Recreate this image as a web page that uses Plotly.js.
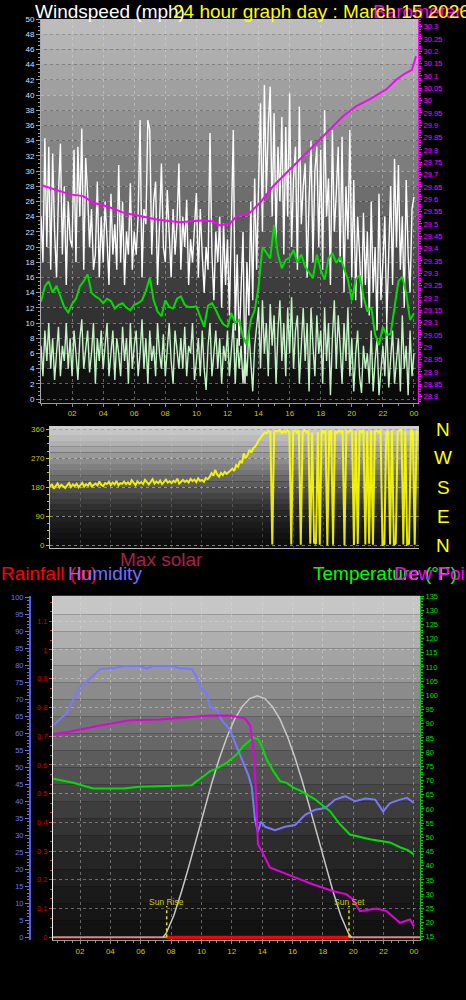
<!DOCTYPE html>
<html><head><meta charset="utf-8">
<script src="https://cdn.plot.ly/plotly-3.0.1.min.js"></script>
<style>html,body{margin:0;padding:0;background:#000;overflow:hidden}#chart{width:466px;height:1000px}</style>
</head><body><div id="chart"></div>
<script>
// ---------- DATA ----------
const HOUR_TICKS = [2,4,6,8,10,12,14,16,18,20,22,24];
const HOUR_LABELS = ['02','04','06','08','10','12','14','16','18','20','22','00'];
const SAMPLE_STEP = 0.125;   // hours between wind samples
const AVG_STEP = 0.25;       // hours between average-wind samples

// Wind gust (mph), white
const gust = [
 24,18,34.3,20,33.2,17,32.3,22,
 16,27,33.6,19,28,15,26,21,
 20,32.8,18,33.2,24,35.6,17,31.7,
 27,20,25,17,19,28.6,16,24,
 18,26,21,15,27,19,23,17,
 30.8,18,26,15,22,19,28.4,17,
 22,19,24,36.7,16,25,23,36.7,
 35.4,19,26,28.6,15,24,31,20,
 18,27.5,22,16,25,19,23,31,
 17,24,20,26.2,15,21,18,23,
 27.1,16,25,19,14,20,17,35,
 19,13,22,18,24,12,23.1,15,
 21,11,25,35.4,9,19,7,16,
 22,2,18,11,26,13,29,17,
 28,38.9,22,41.3,27,36,41.1,24,
 37.6,21,33.2,26,37.1,19,35.8,24,
 40.2,20,29,33.2,17,38.5,23,28,
 31,16,26,34,18,30,33.2,20,
 32.8,17,38,24,29,15,35.4,22,
 27,33.2,18,34.5,14,28,21,35.4,
 16,28.8,13,24,19,12,24.5,15,
 22,11,26,14,20,9,27,13,
 18,24,10,21,28,15,31.6,20,
 30.8,17,24,12,28.8,19,14,25,
 26.6];

// Wind speed (mph), light green
const windSpeed = [
 7,3,9,5,10,4,8,2.5,
 6,9.5,3,7,5,10,4,8,
 3,9,6,2.5,8,10.5,4,7,
 9,3.5,6,10,2,8,5,9,
 4,7,10,3,6,9,2.5,8,
 6,3,9.5,5,8,2,10,4,
 7,9,3,6,10.5,4,8,2,
 9,5,7,3,10,6,4,8.5,
 3,7,10,5,2,9,6,4,
 8,4,9.5,3,7,6,10,2.5,
 5,8,3,9,4,1.2,7,10,
 3,6,9,4,8,2,7,5,
 9,3,6,10,2,8,4,7,
 2,6,3,9,5,1,7,10,
 12,4,13,6,10,3,12.5,7,
 11,2,9,13,5,10,3,12,
 6,13.4,4,9,11,2,8,12,
 5,10,1,12,7,3,11,6,
 9,2,12,5,10,0.5,8,13,
 4,11,7,2,10,5,12,3,
 8,1,6,9,3,0.8,7,4,
 6,2,9,1,5,8,0.5,4,
 7,3,10,1.5,6,9,2,5,
 8,1,11,4,7,0.5,9,3,
 6];

// Average wind speed (mph), green
const windAvg = [
 12.8,14.8,15.5,14.0, 14.9,13.5,12.1,11.4, 12.5,13.2,14.8,15.5, 16.4,14.0,13.5,13.2,
 12.6,13.2,12.9,11.9, 12.4,12.6,12.0,11.7, 12.4,12.6,13.0,14.2, 16.0,13.0,11.5,10.9,
 13.0,12.1,11.9,13.2, 13.5,12.4,12.1,12.1, 12.2,10.8,9.5,12.3, 12.6,11.7,10.6,9.8,
 9.5,11.3,10.0,10.4, 8.2,7.1,10.4,11.7, 14.8,20.0,19.2,18.5, 22.9,19.0,17.2,18.3,
 18.6,19.6,18.0,19.0, 17.4,16.6,15.9,19.0, 17.0,15.7,18.5,19.2, 17.9,18.7,17.3,15.7,
 13.0,15.7,16.3,13.5, 11.5,12.1,8.5,7.1, 9.5,8.4,8.6,11.8, 15.5,16.1,13.9,10.4,
 11.3];

// Barometer (inHg), magenta
const baroHours = [0.05,0.9,1.87,2.72,3.37,4.23,5.3,6.37,7.45,8.94,10.44,11.07,11.52,12.16,12.59,13.45,14.09,14.95,15.81,16.88,17.74,18.6,19.45,20.32,21.17,22.25,22.89,23.42,23.87,24.13];
const baro = [29.657,29.64,29.62,29.613,29.586,29.572,29.546,29.532,29.518,29.507,29.515,29.51,29.494,29.502,29.532,29.546,29.586,29.654,29.708,29.776,29.83,29.884,29.938,29.979,30.006,30.047,30.087,30.11,30.125,30.18];

// Wind direction (degrees), yellow
const windDir = [
 182,190,176,185,192,180,188,183,
 178,186,193,181,189,184,191,180,
 187,194,182,190,185,196,183,189,
 192,186,198,188,184,193,190,197,
 187,195,189,200,186,193,191,198,
 190,196,188,202,193,187,199,192,
 196,190,203,194,189,197,205,192,
 198,193,201,190,196,204,195,199,
 193,200,196,207,192,198,203,197,
 201,195,206,199,204,196,208,200,
 203,197,209,205,212,224,216,234,
 220,213,225,218,228,222,226,232,
 238,231,249,244,262,255,285,270,
 280,296,288,302,306,318,327,335,
 342,350,348,355,352,3,351,356,
 353,358,349,355,351,357,352,3,
 354,357,350,356,2,352,358,351,
 355,5,350,8,4,352,2,356,
 351,357,0,353,358,2,355,349,
 356,352,358,0,354,351,357,353,
 1,355,4,358,352,356,3,354,
 5,357,2,353,356,351,358,0,
 4,350,355,3,357,1,6,352,
 356,359,3,354,2,5,357,352,
 2,354,350];

// Humidity (%)
const humHours = [0.24,1.12,2.0,2.44,3.32,4.19,4.85,5.95,6.39,6.83,8.15,8.59,9.36,9.69,9.9,10.35,10.56,11.0,11.33,11.88,12.32,12.76,13.09,13.31,13.53,13.72,13.92,14.2,14.85,15.51,16.17,16.83,17.49,18.15,18.81,19.47,20.13,20.79,21.45,21.97,22.43,23.09,23.55,24.0];
const humidity = [62.4,65.9,73.7,75.2,78.9,79.1,79.8,79.8,79.1,79.8,79.8,79.1,78.9,76.6,73.7,71.8,67.8,66.9,63.9,61,56.1,51.2,47.7,44.3,34.5,31,34,32.5,31.5,32.5,33,36,37.5,38,40.5,41.5,40,40.8,40.5,37,39.5,40.5,41,39.5];

// Temperature (°F)
const tempHours = [0.24,1.56,2.87,4.85,5.95,8.15,9.36,9.69,10.13,10.56,11.0,11.67,12.32,12.76,13.09,13.42,13.75,13.98,14.3,14.74,15.18,15.62,16.06,16.49,17.48,18.47,19.13,19.78,21.1,22.42,23.08,23.6,24.0];
const temperature = [70.6,69.2,67.2,67.2,67.8,68.0,68.3,69.8,71.4,73.3,74.2,76.3,79.2,82.1,83.5,85.1,84.5,82.1,77.4,73.3,69.8,69.2,67.5,66.5,63.4,59.2,54.6,51.0,49.3,48.2,46.5,45.5,44.0];

// Dew point (as drawn on the right scale)
const dewHours = [0.22,1.34,3.32,5.29,7.27,9.25,10.56,11.88,12.87,13.2,13.4,13.59,13.72,13.98,14.51,15.5,16.49,17.37,18.66,19.57,19.98,20.44,21.54,22.2,23.08,23.74,24.0];
const dewPoint = [86.3,87.3,89.4,91.2,91.5,92.2,92.9,92.9,91.9,89.4,82.7,66.9,47.6,45.1,39.4,37.3,35.2,33.4,31.1,29.9,28.1,24.0,24.9,24.0,19.9,21.1,18.7];

// Max solar curve (drawn on humidity scale)
const solarHours = [7.47,7.68,8.18,8.68,9.18,9.68,10.18,10.68,11.18,11.68,12.18,12.68,13.18,13.68,14.18,14.68,15.18,15.68,16.18,16.68,17.18,17.68,18.18,18.68,19.18,19.68,19.89];
const maxSolar = [0,1.2,6.4,13.3,21.0,29.2,37.4,45.4,52.6,58.9,64.1,67.8,70.2,71,70.2,67.8,64.1,58.9,52.6,45.4,37.4,29.2,21.0,13.3,6.4,1.2,0];

// Rainfall (in)
const rainHours = [0, 24.4];
const rainfall = [0, 0];

const SUNRISE = 7.71, SUNSET = 19.72;
const TITLE_DATE = '24 hour graph day : March 15 2026';

// ---------- HELPERS ----------
const W = 466, H = 1000;
const px = v => v / W;
const py = v => 1 - v / H;
const FONT = 'Liberation Sans, Arial, sans-serif';
const hoursFor = (arr, step) => arr.map((_, i) => i * step);
const OLIVE = '#c8c800';

// Background band colours (style only)
const topBands = ['#0a0a0a','#111111','#222222','#282828','#2d2d2d','#323232','#373737','#3d3d3d','#444444','#4b4b4b','#545454','#5d5d5d','#666666','#6e6e6e','#767676','#7d7d7d','#848484','#8b8b8b','#929292','#999999','#a0a0a0','#a7a7a7','#aeaeae','#b5b5b5','#bcbcbc'];
const dirBands = ['#0e0e0e','#121212','#161616','#1b1b1b','#212121','#282828','#303030','#3a3a3a','#444444','#505050','#5c5c5c','#686868','#747474','#808080','#8c8c8c','#989898','#a4a4a4','#b0b0b0','#bbbbbb','#c6c6c6','#cfcfcf'];
const botBands = ['#121212','#161616','#1a1a1a','#1f1f1f','#252525','#2c2c2c','#343434','#3d3d3d','#474747','#515151','#5c5c5c','#676767','#737373','#7f7f7f','#8b8b8b','#979797','#a3a3a3','#afafaf','#bbbbbb','#c6c6c6'];

const shapes = [];
topBands.forEach((c, i) => shapes.push({type:'rect', layer:'below', xref:'x domain', yref:'y', x0:0, x1:1, y0: i===0 ? -0.5 : i*2, y1: i*2+2, fillcolor:c, line:{width:0}}));
dirBands.forEach((c, i) => shapes.push({type:'rect', layer:'below', xref:'x2 domain', yref:'y3', x0:0, x1:1, y0: i===0 ? -8 : i*18, y1: Math.min(370, i*18+18), fillcolor:c, line:{width:0}}));
botBands.forEach((c, i) => shapes.push({type:'rect', layer:'below', xref:'x3 domain', yref:'y5', x0:0, x1:1, y0: i===0 ? -0.8 : i*5, y1: i===19 ? 100.5 : i*5+5, fillcolor:c, line:{width:0}}));

// ---------- TRACES ----------
const traces = [
  {x: hoursFor(gust, SAMPLE_STEP), y: gust, xaxis:'x', yaxis:'y', mode:'lines', line:{color:'#ffffff', width:1.4}},
  {x: hoursFor(windSpeed, SAMPLE_STEP), y: windSpeed, xaxis:'x', yaxis:'y', mode:'lines', line:{color:'#c4f5c4', width:1.4}},
  {x: hoursFor(windAvg, AVG_STEP), y: windAvg, xaxis:'x', yaxis:'y', mode:'lines', line:{color:'#00dd00', width:2}},
  {x: baroHours, y: baro, xaxis:'x', yaxis:'y2', mode:'lines', line:{color:'#ff00ff', width:2}},
  {x: hoursFor(windDir, SAMPLE_STEP), y: windDir, xaxis:'x2', yaxis:'y3', mode:'lines', line:{color:'rgba(255,255,0,0.9)', width:2}},
  {x: rainHours, y: rainfall, xaxis:'x3', yaxis:'y4', mode:'lines', line:{color:'#f08080', width:2}},
  {x: [SUNRISE, SUNSET], y: [0, 0], xaxis:'x3', yaxis:'y4', mode:'lines', line:{color:'#ff0000', width:3}},
  {x: solarHours, y: maxSolar, xaxis:'x3', yaxis:'y5', mode:'lines', line:{color:'#c8c8c8', width:1.5}},
  {x: humHours, y: humidity, xaxis:'x3', yaxis:'y5', mode:'lines', line:{color:'#7878ff', width:2}},
  {x: [SUNRISE, SUNRISE], y: [0, 9.2], xaxis:'x3', yaxis:'y5', mode:'lines', line:{color:'#e0e000', width:1.5, dash:'dot'}},
  {x: [SUNSET, SUNSET], y: [0, 9.2], xaxis:'x3', yaxis:'y5', mode:'lines', line:{color:'#e0e000', width:1.5, dash:'dot'}},
  {x: tempHours, y: temperature, xaxis:'x3', yaxis:'y6', mode:'lines', line:{color:'#00e000', width:2}},
  {x: dewHours, y: dewPoint, xaxis:'x3', yaxis:'y6', mode:'lines', line:{color:'#e000e0', width:2}}
];

// ---------- LAYOUT ----------
const grid = {showgrid:true, gridcolor:'rgba(225,225,225,0.4)', griddash:'dot', gridwidth:1};
const ann = (text, x, y, color, size, xanchor) => ({text, x: px(x), y: py(y), xref:'paper', yref:'paper', xanchor: xanchor || 'left', yanchor:'middle', showarrow:false, font:{family:FONT, size, color}});

const annotations = [
  ann('Windspeed (mph)', 33, 11, '#ffffff', 19),
  ann('Barometer (in)', 371, 11, '#ff00ff', 19),
  ann(TITLE_DATE, 171, 11, '#ffff00', 19),
  ann('N', 443, 429, '#ffff00', 19, 'center'),
  ann('W', 443, 458, '#ffff00', 19, 'center'),
  ann('S', 443, 487, '#ffff00', 19, 'center'),
  ann('E', 443, 516, '#ffff00', 19, 'center'),
  ann('N', 443, 545, '#ffff00', 19, 'center'),
  ann('Max solar', 118, 559, '#a8204a', 19),
  ann('Rainfall (in)', -1, 573, '#ff0000', 19),
  ann('Humidity', 66, 573, '#7070ff', 19),
  ann('Temperature (°F)', 311, 573, '#00ff00', 19),
  ann('Dew Point (°F)', 392, 573, '#ff00ff', 19),
  ann('Sun Rise', 166, 902, OLIVE, 8.5, 'center'),
  ann('Sun Set', 349, 902, OLIVE, 8.5, 'center')
];

const layout = {
  width: W, height: H, autosize:false,
  margin:{l:0, r:0, t:0, b:0},
  paper_bgcolor:'#000', plot_bgcolor:'rgba(0,0,0,0)',
  showlegend:false, hovermode:false,
  font:{family:FONT},
  shapes, annotations,
  xaxis: Object.assign({domain:[px(41), px(418)], range:[0, 24.26], anchor:'y',
    tickmode:'array', tickvals:HOUR_TICKS, ticktext:HOUR_LABELS,
    tickfont:{color:OLIVE, size:8}, ticks:'outside', ticklen:3, tickcolor:'#888',
    showline:true, linecolor:'#9a9a9a', zeroline:false,
    minor:{tickmode:'linear', tick0:0, dtick:1, ticklen:2, tickcolor:'#888', showgrid:false}}, grid),
  yaxis: Object.assign({domain:[py(402.8), py(19)], range:[-0.5, 50], anchor:'x',
    tickmode:'linear', tick0:0, dtick:2,
    tickfont:{color:'#cfe2ff', size:8}, ticks:'outside', ticklen:4, tickcolor:'#999',
    showline:true, linecolor:'#aaa', zeroline:false,
    minor:{tickmode:'linear', tick0:0, dtick:0.5, ticklen:2, tickcolor:'#999', showgrid:false}}, grid),
  yaxis2: {overlaying:'y', side:'right', anchor:'x', range:[28.775, 30.331],
    tickmode:'linear', tick0:28.8, dtick:0.05, tickformat:'.2~f',
    tickfont:{color:'#ff00ff', size:7.5}, ticks:'outside', ticklen:3, tickcolor:'#ff00ff',
    showline:true, linecolor:'#ff00ff', showgrid:false, zeroline:false,
    minor:{tickmode:'linear', tick0:28.8, dtick:0.01, ticklen:2, tickcolor:'#ff00ff', showgrid:false}},
  xaxis2: Object.assign({domain:[px(50), px(419)], range:[0, 24.28], anchor:'y3',
    tickmode:'array', tickvals:HOUR_TICKS, showticklabels:false, ticks:'',
    showline:true, linecolor:'#bbb', zeroline:false}, grid, {gridcolor:'rgba(220,220,220,0.22)'}),
  yaxis3: Object.assign({domain:[py(547.9), py(426.1)], range:[-8, 370], anchor:'x2',
    tickmode:'array', tickvals:[0,90,180,270,360],
    tickfont:{color:OLIVE, size:8}, ticks:'outside', ticklen:3, tickcolor:OLIVE,
    showline:true, linecolor:'#bbb', zeroline:false,
    minor:{tickmode:'linear', tick0:0, dtick:22.5, ticklen:2, tickcolor:OLIVE, showgrid:false}}, grid, {gridcolor:'rgba(230,230,230,0.5)'}),
  xaxis3: Object.assign({domain:[px(53), px(420)], range:[0.22, 24.4], anchor:'y4',
    tickmode:'array', tickvals:HOUR_TICKS, ticktext:HOUR_LABELS,
    tickfont:{color:OLIVE, size:8}, ticks:'outside', ticklen:3, tickcolor:'#888',
    showline:true, linecolor:'#999', zeroline:false,
    minor:{tickmode:'linear', tick0:0, dtick:0.5, ticklen:2, tickcolor:'#888', showgrid:false}}, grid),
  yaxis4: Object.assign({domain:[py(940), py(595.6)], range:[-0.0094, 1.1893], anchor:'x3', side:'left',
    tickmode:'linear', tick0:0, dtick:0.1, tickformat:'.1~f',
    tickfont:{color:'#d00000', size:7.5}, ticks:'outside', ticklen:3, tickcolor:'#e03030',
    showline:true, linecolor:'#f0f0f0', zeroline:false,
    minor:{tickmode:'linear', tick0:0, dtick:0.1/3, ticklen:2, tickcolor:'#e03030', showgrid:false}}, grid),
  yaxis5: {overlaying:'y4', anchor:'free', position:px(30), side:'left', range:[-0.8, 100.5],
    tickmode:'linear', tick0:0, dtick:5,
    tickfont:{color:'#6e6eff', size:7.5}, ticks:'outside', ticklen:4, tickcolor:'#6e6eff',
    showline:true, linecolor:'#5c5cf0', linewidth:2, showgrid:false, zeroline:false,
    minor:{tickmode:'linear', tick0:0, dtick:1, ticklen:2, tickcolor:'#6e6eff', showgrid:false}},
  yaxis6: {overlaying:'y4', anchor:'x3', side:'right', range:[13.84, 135.14],
    tickmode:'linear', tick0:15, dtick:5,
    tickfont:{color:'#00dd00', size:7.5}, ticks:'outside', ticklen:3, tickcolor:'#00cc00',
    showline:true, linecolor:'#00cc00', showgrid:false, zeroline:false,
    minor:{tickmode:'linear', tick0:15, dtick:1, ticklen:2, tickcolor:'#00cc00', showgrid:false}}
};

Plotly.newPlot('chart', traces, layout, {staticPlot:true, displayModeBar:false});
</script>
</body></html>
